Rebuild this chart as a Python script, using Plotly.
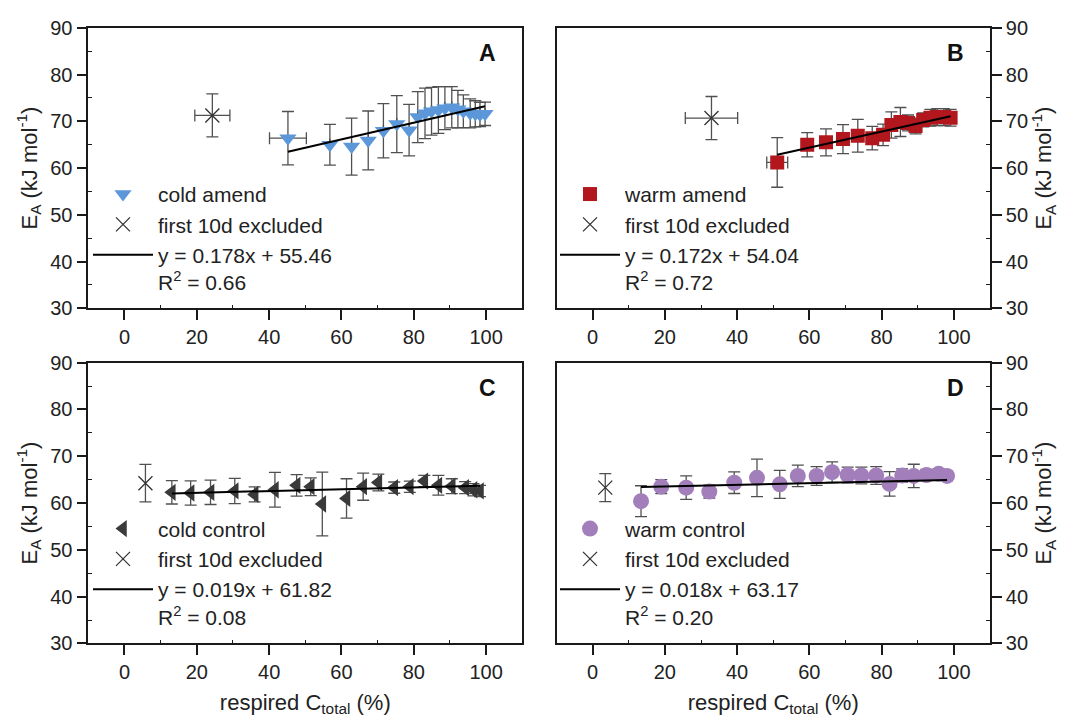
import numpy as np
import plotly.graph_objects as go

# ---------------- data ----------------
A_x = [45.2, 56.8, 62.8, 67.4, 71.6, 75.3, 78.7, 81.1, 83.1, 84.9, 86.8, 88.6, 90.5, 92.2, 93.7, 95.6, 97.0, 98.3, 99.7]
A_y = [66.4, 65.0, 64.6, 65.9, 68.0, 69.4, 68.1, 70.9, 71.7, 72.15, 72.4, 72.8, 73.0, 72.6, 72.15, 71.7, 71.6, 71.45, 71.6]
A_err = [5.7, 4.35, 6.1, 6.3, 5.8, 6.1, 5.5, 5.45, 5.4, 5.1, 5.0, 4.6, 4.4, 4.0, 3.5, 3.1, 2.8, 2.6, 2.5]
A_xerr = [5.1] + [0] * 18

B_x = [51.1, 59.4, 64.6, 69.3, 73.4, 77.4, 80.4, 82.7, 85.2, 87.3, 89.4, 91.5, 93.5, 95.4, 97.2, 99.1]
B_y = [61.2, 65.0, 65.5, 66.2, 66.9, 66.4, 67.1, 69.2, 69.85, 69.65, 69.0, 70.3, 70.75, 70.9, 70.9, 70.75]
B_err = [5.3, 2.6, 2.9, 3.1, 3.5, 2.5, 2.3, 2.8, 3.1, 1.7, 1.7, 1.5, 1.8, 1.8, 1.8, 1.8]
B_xerr = [2.9] + [0] * 15

C_x = [13.1, 18.3, 23.8, 30.5, 36.0, 41.6, 47.6, 51.5, 54.7, 61.4, 66.0, 70.2, 74.6, 78.9, 82.9, 86.8, 90.5, 94.2, 96.5, 98.3]
C_y = [62.3, 62.15, 62.3, 62.6, 61.85, 62.85, 63.8, 63.5, 59.8, 61.0, 63.5, 64.4, 63.3, 63.5, 64.7, 63.8, 63.6, 63.3, 62.85, 62.6]
C_err = [2.5, 2.6, 2.6, 2.7, 1.6, 3.7, 2.3, 1.9, 6.8, 4.2, 2.9, 1.8, 1.2, 1.2, 1.2, 2.1, 1.6, 1.3, 1.3, 1.2]

D_x = [13.4, 19.0, 25.9, 32.3, 39.2, 45.5, 51.8, 56.8, 62.0, 66.3, 70.6, 74.4, 78.5, 82.2, 85.7, 88.9, 92.4, 95.8, 98.1]
D_y = [60.4, 63.5, 63.3, 62.45, 64.35, 65.4, 64.0, 65.8, 65.8, 66.6, 66.0, 65.9, 65.9, 64.1, 65.9, 65.8, 66.0, 66.25, 65.8]
D_err = [3.3, 1.5, 2.5, 1.4, 2.3, 4.0, 3.0, 2.3, 2.0, 2.2, 1.7, 1.8, 1.9, 2.6, 1.4, 2.5, 1.2, 1.1, 1.0]

# excluded first-10-day points: x, y, x error, y error
EX_x = [24.3, 32.9, 5.8, 3.5]
EX_y = [71.25, 70.7, 64.25, 63.3]
EX_xerr = [4.85, 7.25, 0, 0]
EX_yerr = [4.6, 4.6, 4.0, 3.0]

slopes = [0.178, 0.172, 0.019, 0.018]
intercepts = [55.46, 54.04, 61.82, 63.17]
r2 = ["0.66", "0.72", "0.08", "0.20"]

names = ["cold amend", "warm amend", "cold control", "warm control"]
colors = ["#5b97d9", "#b2171d", "#3a3a3a", "#a27fbb"]
symbols = ["triangle-down", "square", "triangle-left", "circle"]
sizes = [15, 14, 15, 16]
panel_labels = ["A", "B", "C", "D"]

xs = [A_x, B_x, C_x, D_x]
ys = [A_y, B_y, C_y, D_y]
errs = [A_err, B_err, C_err, D_err]
xerrs = [A_xerr, B_xerr, None, None]

# ---------------- layout geometry ----------------
W, H = 1074, 724
xdom = [(88.3 / W, 522.3 / W), (556.5 / W, 990 / W)]
ydom = [(1 - 306.7 / H, 1 - 17.3 / H), (1 - 652.3 / H, 1 - 362.7 / H)]
FONT = "Liberation Sans, Arial, sans-serif"
ERRC = "#505050"

fig = go.Figure()
for i in range(4):
    sfx = "" if i == 0 else str(i + 1)
    xa, ya = "x" + sfx, "y" + sfx
    leg = "legend" + sfx
    # excluded point
    fig.add_trace(go.Scatter(
        x=[EX_x[i]], y=[EX_y[i]], mode="markers", xaxis=xa, yaxis=ya, legend=leg,
        name="first 10d excluded",
        marker=dict(symbol="x-thin-open", size=14, color="#333333", line=dict(width=1.3, color="#333333")),
        error_y=dict(type="data", array=[EX_yerr[i]], color=ERRC, thickness=1.3, width=6),
        error_x=dict(type="data", array=[EX_xerr[i]], color=ERRC, thickness=1.3, width=6, visible=EX_xerr[i] > 0),
        legendrank=2,
    ))
    # main data
    ex = dict(type="data", array=xerrs[i], color=ERRC, thickness=1.3, width=6) if xerrs[i] else None
    fig.add_trace(go.Scatter(
        x=xs[i], y=ys[i], mode="markers", xaxis=xa, yaxis=ya, legend=leg,
        name=names[i],
        marker=dict(symbol=symbols[i], size=sizes[i], color=colors[i], line=dict(width=0)),
        error_y=dict(type="data", array=errs[i], color=ERRC, thickness=1.3, width=6),
        error_x=ex,
        legendrank=1,
    ))
    # regression line
    xl = np.array([min(xs[i]), max(xs[i])])
    yl = slopes[i] * xl + intercepts[i]
    fig.add_trace(go.Scatter(
        x=xl, y=yl, mode="lines", xaxis=xa, yaxis=ya, legend=leg,
        name=f"y = {slopes[i]:.3f}x + {intercepts[i]:.2f}<br>R<sup>2</sup> = {r2[i]}",
        line=dict(color="black", width=2),
        legendrank=3,
    ))

axis_common = dict(
    showline=True, linecolor="#1a1a1a", linewidth=1.6, mirror=True,
    ticks="outside", ticklen=10, tickwidth=1.5, tickcolor="#1a1a1a",
    showgrid=False, zeroline=False,
    tickfont=dict(family=FONT, size=20, color="#222"),
)

layout = dict(
    width=W, height=H, margin=dict(l=0, r=0, t=0, b=0),
    paper_bgcolor="white", plot_bgcolor="white",
    font=dict(family=FONT, color="#222"),
    annotations=[],
)

for i in range(4):
    sfx = "" if i == 0 else str(i + 1)
    col = i % 2
    row = i // 2
    xkey, ykey = "xaxis" + sfx, "yaxis" + sfx
    xa, ya = "x" + sfx, "y" + sfx
    xd = dict(axis_common)
    xd.update(domain=list(xdom[col]), range=[-10, 110], tickvals=[0, 20, 40, 60, 80, 100],
              minor=dict(tickvals=[10, 30, 50, 70, 90], ticks="inside", ticklen=4, tickwidth=1, tickcolor="#1a1a1a"),
              anchor=ya)
    if row == 1:
        xd["title"] = dict(text="respired C<sub>total</sub> (%)", font=dict(family=FONT, size=22, color="#222"), standoff=12)
    yd = dict(axis_common)
    yd.update(domain=list(ydom[row]), range=[30, 90], tickvals=[30, 40, 50, 60, 70, 80, 90],
              minor=dict(tickvals=[35, 45, 55, 65, 75, 85], ticks="inside", ticklen=4, tickwidth=1, tickcolor="#1a1a1a"),
              anchor=xa, side="left" if col == 0 else "right",
              title=dict(text="E<sub>A</sub> (kJ mol<sup>-1</sup>)", font=dict(family=FONT, size=22, color="#222"), standoff=7))
    layout[xkey] = xd
    layout[ykey] = yd

    leg_left_px = 88 if col == 0 else 555
    leg_top_px = 168 if row == 0 else 513
    layout["legend" + sfx] = dict(
        x=leg_left_px / W, y=1 - leg_top_px / H, xanchor="left", yanchor="top",
        bgcolor="rgba(0,0,0,0)", borderwidth=0,
        font=dict(family=FONT, size=21, color="#222"),
        itemwidth=60, valign="top", traceorder="normal",
    )
    layout["annotations"].append(dict(
        text=f"<b>{panel_labels[i]}</b>", xref=xa + " domain", yref=ya + " domain",
        x=0.92, y=0.91, showarrow=False, xanchor="center", yanchor="middle",
        font=dict(family=FONT, size=23, color="#111"),
    ))

fig.update_layout(**layout)
fig.write_html("out.html")
